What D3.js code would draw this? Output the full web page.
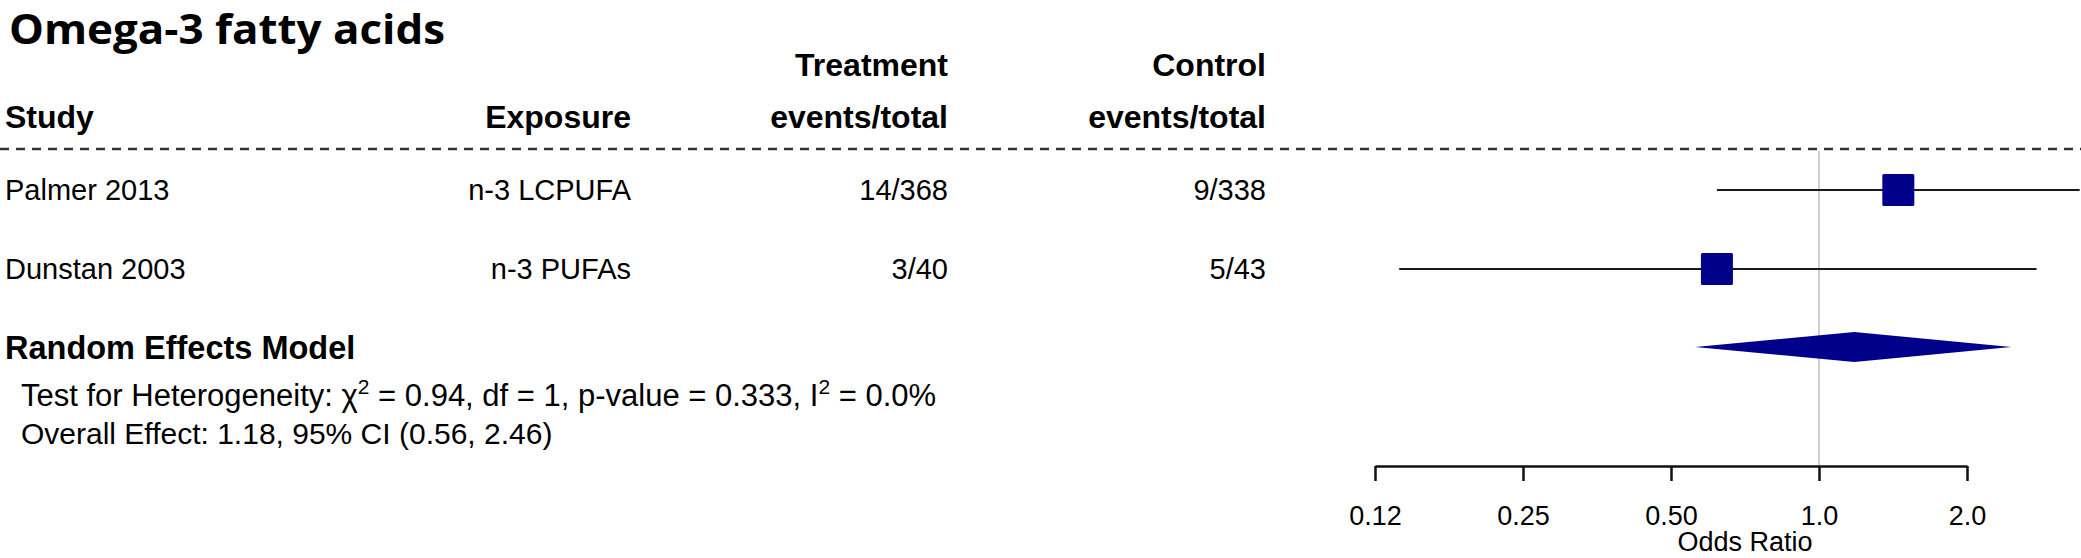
<!DOCTYPE html>
<html lang="en">
<head>
    <meta charset="UTF-8">
    <title>forest</title>
    <script src="https://cdn.jsdelivr.net/npm/d3@7/dist/d3.min.js"></script>
    <style>
        body { margin: 0; background: #fff; }
        text { font-family: "Liberation Sans", Arial, sans-serif; fill: #000; }
    </style>
</head>
<body>

<svg width="2081" height="558"></svg>

<script>

    // data
    var studies = ["Palmer 2013", "Dunstan 2003"];
    var exposures = ["n-3 LCPUFA", "n-3 PUFAs"];
    var treatment = ["14/368", "3/40"];
    var control = ["9/338", "5/43"];
    var oddsRatio = [1.45, 0.62];
    var lower = [0.62, 0.14];
    var upper = [3.39, 2.77];

    var summary = [1.18, 0.56, 2.46]; // est, lower, upper
    var tickValues = [0.125, 0.25, 0.5, 1, 2];
    var tickLabels = ["0.12", "0.25", "0.50", "1.0", "2.0"];

    var svg = d3.select("svg");

    //scales
    var x = d3.scaleLog().base(2)
        .domain([0.125, 2])
        .range([1375, 1967]);

    var y = d3.scaleLinear()
        .domain([0, 1, 2])
        .range([190, 269, 347]);

    var axisY = 466;
    var dashY = 149;

    // title
    svg.append("text")
        .attr("x", 9)
        .attr("y", 44)
        .attr("textLength", 436)
        .attr("lengthAdjust", "spacingAndGlyphs")
        .style("font-family", "'Open Sans', 'Noto Sans', sans-serif")
        .style("font-weight", 700)
        .style("font-size", "42px")
        .text("Omega-3 fatty acids");

    // headers
    var head = svg.append("g")
        .style("font-weight", "bold")
        .style("font-size", "32px");

    head.append("text").attr("x", 5).attr("y", 128).text("Study");
    head.append("text").attr("x", 631).attr("y", 128).attr("text-anchor", "end").text("Exposure");
    head.append("text").attr("x", 948).attr("y", 76).attr("text-anchor", "end").text("Treatment");
    head.append("text").attr("x", 948).attr("y", 128).attr("text-anchor", "end").text("events/total");
    head.append("text").attr("x", 1266).attr("y", 76).attr("text-anchor", "end").text("Control");
    head.append("text").attr("x", 1266).attr("y", 128).attr("text-anchor", "end").text("events/total");

    // dashed separator
    svg.append("line")
        .attr("x1", 0).attr("x2", 2081)
        .attr("y1", dashY).attr("y2", dashY)
        .attr("stroke", "#333")
        .attr("stroke-width", 2.5)
        .attr("stroke-dasharray", "9,7");

    // reference line at OR = 1
    svg.append("line")
        .attr("x1", x(1)).attr("x2", x(1))
        .attr("y1", dashY + 2).attr("y2", axisY)
        .attr("stroke", "#cfcfcf")
        .attr("stroke-width", 2);

    // study rows (text)
    var rows = svg.append("g")
        .selectAll("g")
        .data(studies)
        .enter()
        .append("g")
        .attr("transform", function (d, i) { return "translate(0," + y(i) + ")"; })
        .style("font-size", "29px");

    rows.append("text").attr("x", 5).attr("y", 10).text(function (d) { return d; });
    rows.append("text").attr("x", 631).attr("y", 10).attr("text-anchor", "end")
        .text(function (d, i) { return exposures[i]; });
    rows.append("text").attr("x", 948).attr("y", 10).attr("text-anchor", "end")
        .text(function (d, i) { return treatment[i]; });
    rows.append("text").attr("x", 1266).attr("y", 10).attr("text-anchor", "end")
        .text(function (d, i) { return control[i]; });

    // confidence intervals
    rows.append("line")
        .attr("x1", function (d, i) { return x(lower[i]); })
        .attr("x2", function (d, i) { return x(upper[i]); })
        .attr("y1", 0).attr("y2", 0)
        .attr("stroke", "#1a1a1a")
        .attr("stroke-width", 2.2);

    // squares
    var sq = 32;
    rows.append("rect")
        .attr("x", function (d, i) { return x(oddsRatio[i]) - sq / 2; })
        .attr("y", -sq / 2)
        .attr("width", sq)
        .attr("height", sq)
        .attr("rx", 1.5)
        .attr("fill", "#00008b");

    // summary diamond
    var sy = y(2);
    var dh = 15;
    svg.append("path")
        .attr("d", "M" + x(summary[1]) + "," + sy +
            "L" + x(summary[0]) + "," + (sy - dh) +
            "L" + x(summary[2]) + "," + sy +
            "L" + x(summary[0]) + "," + (sy + dh) + "Z")
        .attr("fill", "#00008b");

    svg.append("text")
        .attr("x", 5).attr("y", sy + 12)
        .style("font-weight", "bold")
        .style("font-size", "32.5px")
        .text("Random Effects Model");

    // heterogeneity text
    var het = svg.append("text")
        .attr("x", 21).attr("y", 406)
        .style("font-size", "31px");
    het.append("tspan").text("Test for Heterogeneity: \u03c7");
    het.append("tspan").attr("dy", -12).style("font-size", "21px").text("2");
    het.append("tspan").attr("dy", 12).text(" = 0.94, df = 1, p-value = 0.333, I");
    het.append("tspan").attr("dy", -12).style("font-size", "21px").text("2");
    het.append("tspan").attr("dy", 12).text(" = 0.0%");

    svg.append("text")
        .attr("x", 21).attr("y", 444)
        .style("font-size", "30px")
        .text("Overall Effect: " + summary[0].toFixed(2) + ", 95% CI (" +
            summary[1].toFixed(2) + ", " + summary[2].toFixed(2) + ")");

    // axis
    var axis = d3.axisBottom(x)
        .tickValues(tickValues)
        .tickFormat(function (d, i) { return tickLabels[i]; })
        .tickSize(15)
        .tickSizeOuter(0)
        .tickPadding(25);

    var gAxis = svg.append("g")
        .attr("transform", "translate(0," + axisY + ")")
        .call(axis);

    gAxis.select(".domain").attr("stroke", "#111").attr("stroke-width", 2.5);
    gAxis.selectAll(".tick line").attr("stroke", "#111").attr("stroke-width", 2.5);
    gAxis.selectAll(".tick text")
        .style("font-family", "'Liberation Sans', Arial, sans-serif")
        .style("font-size", "27px")
        .attr("fill", "#000");

    svg.append("text")
        .attr("x", x(0.5) + (x(1) - x(0.5)) / 2)
        .attr("y", 551)
        .attr("text-anchor", "middle")
        .style("font-size", "27px")
        .text("Odds Ratio");

</script>
</body>
</html>
